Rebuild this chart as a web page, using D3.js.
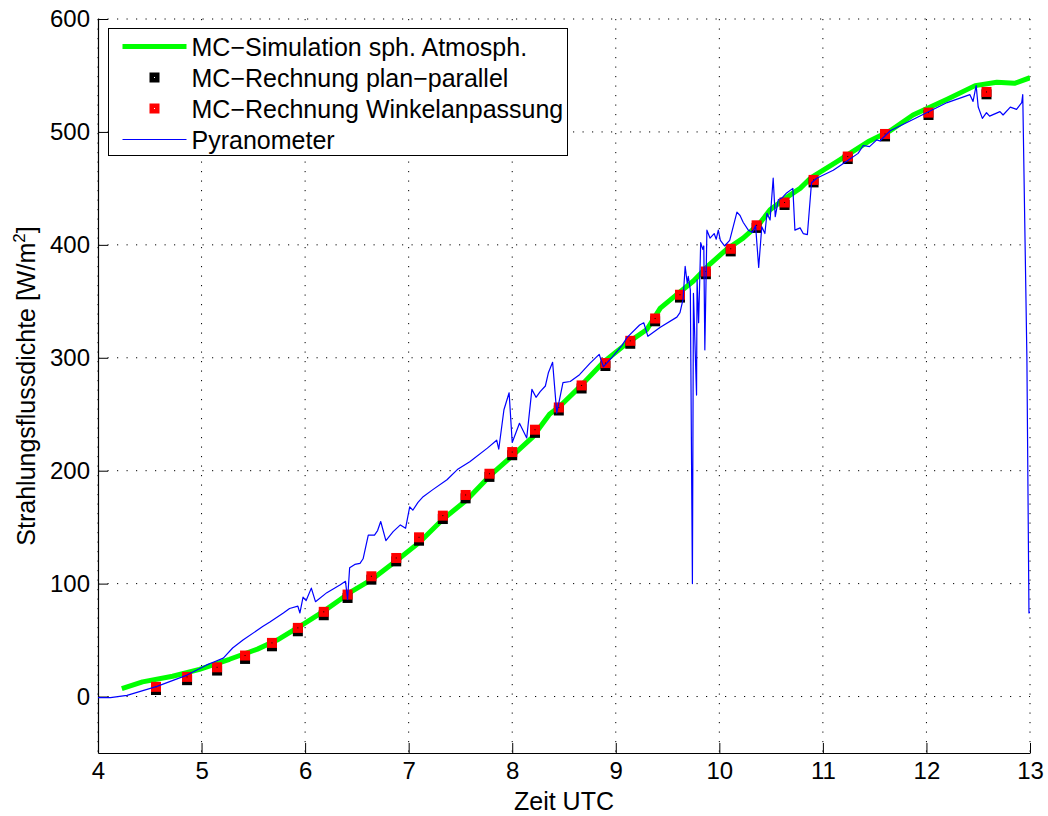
<!DOCTYPE html>
<html>
<head>
<meta charset="utf-8">
<script src="https://cdn.jsdelivr.net/npm/d3@7"></script>
<style>
  body { margin: 0; background: #fff; }
  svg text { font-family: "Liberation Sans", Arial, Helvetica, sans-serif; fill: #000; }
</style>
</head>
<body>
<svg id="chart" width="1048" height="816"></svg>
<script>
// MC-Simulation sph. Atmosph. (green line)
let simHours = [4.23, 4.43, 4.72, 4.98, 5.27, 5.54, 5.73, 5.98, 6.17, 6.34, 6.43, 6.65, 6.89, 7.11, 7.33, 7.56, 7.79, 8.01, 8.20, 8.36, 8.46, 8.65, 8.88, 9.11, 9.30, 9.43, 9.55, 9.75, 9.91, 10.07, 10.23, 10.39, 10.49, 10.65, 10.78, 10.88, 11.00, 11.14, 11.26, 11.45, 11.65, 11.87, 12.20, 12.47, 12.68, 12.85, 13.0];
let simValues = [7, 13, 18, 24, 33, 42, 50, 64, 75, 86, 92, 104, 121, 137, 157, 174, 196, 214, 230, 250, 257, 274, 296, 313, 325, 344, 353, 368, 383, 396, 406, 419, 431, 442, 450, 459, 466, 474, 481, 492, 501, 515, 529, 541, 544, 543, 548];

// MC-Rechnung (markers)
let mcHours = [4.56, 4.86, 5.15, 5.42, 5.68, 5.93, 6.18, 6.41, 6.64, 6.88, 7.10, 7.33, 7.55, 7.78, 8.00, 8.22, 8.45, 8.67, 8.90, 9.14, 9.38, 9.62, 9.87, 10.11, 10.36, 10.63, 10.91, 11.24, 11.60, 12.02, 12.58];
let winkelValues = [8.6, 17.4, 25.9, 36.3, 47.5, 60.8, 75.0, 90.3, 106.5, 122.7, 141.0, 160.2, 178.5, 197.3, 216.5, 236.3, 256.0, 275.5, 295.3, 315.0, 334.8, 355.8, 376.4, 396.5, 417.3, 437.5, 457.5, 478.2, 498.2, 517.1, 535.4];
let planValues = [5.8, 14.5, 23.0, 33.3, 44.5, 57.8, 72.0, 87.3, 103.5, 119.7, 138.0, 157.2, 175.5, 194.5, 213.7, 233.5, 253.3, 272.8, 292.7, 312.4, 332.3, 353.3, 374.0, 394.2, 415.0, 435.3, 455.3, 476.0, 496.0, 515.0, 533.3];

// Pyranometer (blue line)
let pyrHours = [4.00, 4.12, 4.28, 4.57, 4.86, 5.05, 5.13, 5.21, 5.30, 5.40, 5.59, 5.66, 5.79, 5.85, 5.93, 5.95, 5.98, 6.01, 6.06, 6.10, 6.21, 6.34, 6.39, 6.41, 6.43, 6.48, 6.53, 6.56, 6.61, 6.67, 6.70, 6.73, 6.78, 6.85, 6.92, 6.97, 7.01, 7.04, 7.09, 7.14, 7.23, 7.37, 7.47, 7.59, 7.76, 7.85, 7.87, 7.92, 7.97, 8.00, 8.07, 8.14, 8.19, 8.23, 8.27, 8.32, 8.35, 8.39, 8.43, 8.49, 8.56, 8.65, 8.75, 8.84, 8.88, 8.96, 9.06, 9.11, 9.23, 9.27, 9.31, 9.43, 9.59, 9.62, 9.65, 9.67, 9.69, 9.70, 9.72, 9.74, 9.75, 9.78, 9.785, 9.80, 9.82, 9.84, 9.85, 9.86, 9.88, 9.91, 9.95, 9.97, 9.99, 10.01, 10.05, 10.10, 10.17, 10.20, 10.23, 10.28, 10.32, 10.35, 10.38, 10.41, 10.44, 10.46, 10.49, 10.52, 10.54, 10.57, 10.61, 10.65, 10.71, 10.73, 10.78, 10.81, 10.85, 10.89, 10.94, 11.10, 11.23, 11.34, 11.39, 11.45, 11.52, 11.55, 11.65, 11.87, 12.20, 12.42, 12.45, 12.48, 12.50, 12.54, 12.58, 12.61, 12.71, 12.74, 12.81, 12.87, 12.92, 12.93, 12.97, 12.99, 13.0];
let pyrValues = [-1, -1, 1, 9, 19, 28, 31, 34, 43, 50, 62, 66, 74, 78, 80, 74, 88, 85, 96, 84, 92, 99, 102, 86, 114, 117, 118, 122, 143, 143, 147, 155, 138, 146, 152, 149, 168, 165, 172, 177, 183, 192, 201, 208, 220, 227, 219, 254, 269, 225, 242, 229, 272, 265, 270, 275, 287, 296, 251, 278, 279, 285, 295, 303, 292, 300, 311, 318, 329, 331, 319, 327, 336, 340, 352, 381, 366, 372, 360, 100, 357, 267, 369, 331, 402, 396, 399, 307, 413, 406, 410, 405, 413, 404, 399, 404, 429, 426, 420, 413, 411, 417, 380, 416, 410, 428, 422, 459, 425, 440, 442, 446, 450, 413, 415, 410, 409, 455, 459, 466, 474, 481, 488, 487, 493, 492, 501, 511, 526, 533, 527, 541, 522, 512, 517, 514, 518, 515, 522, 520, 526, 533, 300, 74, 75];

let xTicks = [4, 5, 6, 7, 8, 9, 10, 11, 12, 13];
let yTicks = [0, 100, 200, 300, 400, 500, 600];

let legendLabels = ["MC\u2212Simulation sph. Atmosph.", "MC\u2212Rechnung plan\u2212parallel", "MC\u2212Rechnung Winkelanpassung", "Pyranometer"];

let margin = {top: 19, right: 18, bottom: 63, left: 98};
let width = 1048 - margin.left - margin.right;
let height = 816 - margin.top - margin.bottom;

let svg = d3.select("#chart")
    .append("g")
    .attr("transform", `translate(${margin.left}, ${margin.top})`);

let x = d3.scaleLinear().domain([4, 13]).range([0, width]);
let y = d3.scaleLinear().domain([-50, 600]).range([height, 0]);

// dotted grid
svg.append("g").selectAll("line")
    .data(xTicks)
    .join("line")
    .attr("x1", d => x(d)).attr("x2", d => x(d))
    .attr("y1", 0).attr("y2", height)
    .style("stroke", "#000")
    .style("stroke-width", 1)
    .style("stroke-dasharray", "1.2,8.3");

svg.append("g").selectAll("line")
    .data(yTicks)
    .join("line")
    .attr("x1", 0).attr("x2", width)
    .attr("y1", d => y(d)).attr("y2", d => y(d))
    .style("stroke", "#000")
    .style("stroke-width", 1)
    .style("stroke-dasharray", "1.2,8.3");

// axes
let xAxis = svg.append("g")
    .attr("transform", `translate(0, ${height})`)
    .call(d3.axisBottom(x).tickValues(xTicks).tickSize(-10).tickSizeOuter(0).tickPadding(9).tickFormat(d3.format("d")));

let yAxis = svg.append("g")
    .call(d3.axisLeft(y).tickValues(yTicks).tickSize(-10).tickSizeOuter(0).tickPadding(8).tickFormat(d3.format("d")));

[xAxis, yAxis].forEach(a => {
    a.selectAll("text").style("font-size", "24px");
    a.selectAll("line").style("stroke", "#000");
    a.select(".domain").style("stroke", "#000").style("stroke-width", 1.2);
});

svg.append("text")
    .attr("text-anchor", "middle")
    .attr("x", width / 2)
    .attr("y", height + 57)
    .style("font-size", "25px")
    .text("Zeit UTC");

let yLabel = svg.append("text")
    .attr("text-anchor", "middle")
    .attr("transform", `translate(-63, ${height / 2}) rotate(-90)`)
    .style("font-size", "25px");
yLabel.append("tspan").text("Strahlungsflussdichte [W/m");
yLabel.append("tspan").attr("dy", -10).style("font-size", "17px").text("2");
yLabel.append("tspan").attr("dy", 10).text("]");

// plot contents
svg.append("defs").append("clipPath")
    .attr("id", "clip")
    .append("rect")
    .attr("width", width).attr("height", height);

let plot = svg.append("g").attr("clip-path", "url(#clip)");

let simData = simHours.map((h, i) => ({h: h, v: simValues[i]}));
let pyrData = pyrHours.map((h, i) => ({h: h, v: pyrValues[i]}));

let line = d3.line()
    .x(d => x(d.h))
    .y(d => y(d.v));

plot.append("path")
    .datum(simData)
    .attr("d", line)
    .style("fill", "none")
    .style("stroke", "#00ff00")
    .style("stroke-width", 5)
    .style("stroke-linejoin", "round");

let size = 10;

plot.selectAll(".plan")
    .data(mcHours)
    .join("rect")
    .attr("class", "plan")
    .attr("x", d => x(d) - size / 2)
    .attr("y", (d, i) => y(planValues[i]) - size / 2)
    .attr("width", size).attr("height", size)
    .style("fill", "#000");

plot.selectAll(".winkel")
    .data(mcHours)
    .join("rect")
    .attr("class", "winkel")
    .attr("x", d => x(d) - size / 2)
    .attr("y", (d, i) => y(winkelValues[i]) - size / 2)
    .attr("width", size).attr("height", size)
    .style("fill", "#ff0000");

plot.selectAll(".dot")
    .data(mcHours)
    .join("rect")
    .attr("class", "dot")
    .attr("x", d => x(d) - 0.5)
    .attr("y", (d, i) => y(winkelValues[i]) - 0.5)
    .attr("width", 1).attr("height", 1)
    .style("fill", "#000");

plot.append("path")
    .datum(pyrData)
    .attr("d", line)
    .style("fill", "none")
    .style("stroke", "#0000ff")
    .style("stroke-width", 1.2)
    .style("stroke-linejoin", "round");

// legend
let legend = svg.append("g").attr("transform", "translate(10.5, 9.5)");

legend.append("rect")
    .attr("width", 459).attr("height", 127)
    .style("fill", "#fff")
    .style("stroke", "#000")
    .style("stroke-width", 1);

let rowY = i => 18 + i * 31;

legend.append("line")
    .attr("x1", 14).attr("x2", 78).attr("y1", rowY(0)).attr("y2", rowY(0))
    .style("stroke", "#00ff00").style("stroke-width", 5);

legend.append("rect")
    .attr("x", 41).attr("y", rowY(1) - 5).attr("width", 10).attr("height", 10)
    .style("fill", "#000");
legend.append("rect")
    .attr("x", 45.5).attr("y", rowY(1) - 0.5).attr("width", 1).attr("height", 1)
    .style("fill", "#fff");

legend.append("rect")
    .attr("x", 41).attr("y", rowY(2) - 5).attr("width", 10).attr("height", 10)
    .style("fill", "#ff0000");
legend.append("rect")
    .attr("x", 45.5).attr("y", rowY(2) - 0.5).attr("width", 1).attr("height", 1)
    .style("fill", "#fff");

legend.append("line")
    .attr("x1", 14).attr("x2", 78).attr("y1", rowY(3)).attr("y2", rowY(3))
    .style("stroke", "#0000ff").style("stroke-width", 1.2);

legend.selectAll(".lbl")
    .data(legendLabels)
    .join("text")
    .attr("class", "lbl")
    .attr("x", 83)
    .attr("y", (d, i) => rowY(i))
    .attr("dy", "0.36em")
    .style("font-size", "25px")
    .text(d => d);
</script>
</body>
</html>
